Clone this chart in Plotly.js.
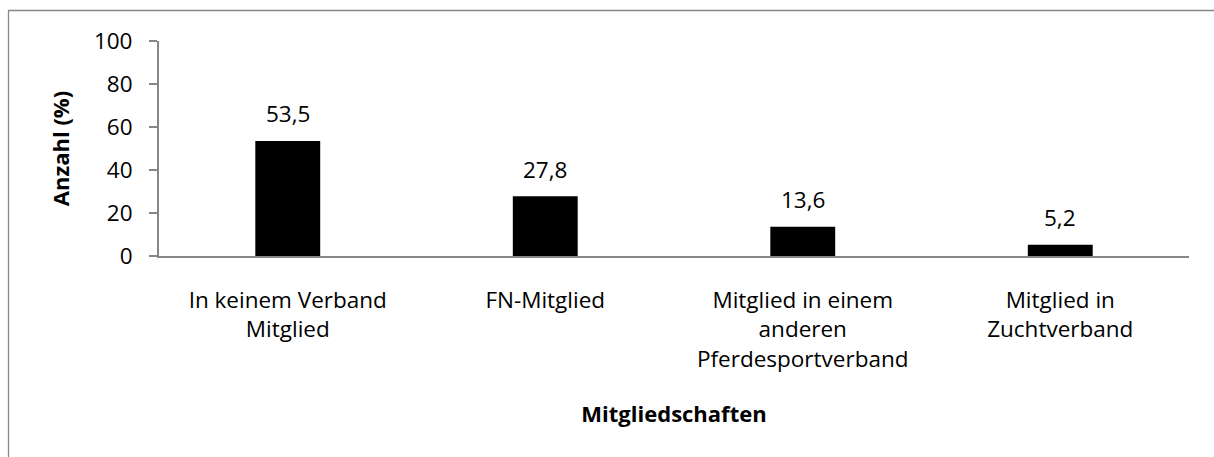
<!DOCTYPE html>
<html>
<head>
<meta charset="utf-8">
<script src="https://cdn.plot.ly/plotly-3.0.1.min.js"></script>
<style>
  html, body { margin: 0; padding: 0; background: #fff; }
  #chart { width: 1214px; height: 457px; }
</style>
</head>
<body>
<div id="chart"></div>
<script>
const categories = [
  "In keinem Verband<br>Mitglied",
  "FN-Mitglied",
  "Mitglied in einem<br>anderen<br>Pferdesportverband",
  "Mitglied in<br>Zuchtverband"
];
const values = [53.5, 27.8, 13.6, 5.2];
const yTicks = [0, 20, 40, 60, 80, 100];

const FONT = "'Open Sans', sans-serif";
const FS = 22.5;
const GRAY = "#878787";

const labels = values.map(v => v.toFixed(1).replace('.', ','));

const trace = {
  type: 'bar',
  x: categories,
  y: values,
  marker: { color: '#000000', line: { width: 0 } },
  hoverinfo: 'none'
};

const annotations = categories.map((c, i) => ({
  x: c, y: values[i], xref: 'x', yref: 'y',
  text: labels[i], showarrow: false,
  yanchor: 'middle', yshift: 27,
  font: { family: FONT, size: FS, color: '#000' }
}));

const L = 159, R = 25, T = 41, B = 201;
const W = 1214, H = 457;
const pw = W - L - R, ph = H - T - B;
const px = v => (v - L) / pw;
const py = v => (H - B - v) / ph;

const layout = {
  width: W, height: H,
  margin: { l: L, r: R, t: T, b: B, pad: 0 },
  paper_bgcolor: '#fff', plot_bgcolor: '#fff',
  font: { family: FONT, size: FS, color: '#000' },
  bargap: 0.748,
  showlegend: false,
  xaxis: {
    type: 'category',
    showline: true, linecolor: GRAY, linewidth: 2,
    ticks: '', showgrid: false, zeroline: false,
    ticklabelstandoff: 23,
    tickfont: { family: FONT, size: FS, color: '#000' },
    title: { text: '<b>Mitgliedschaften</b>', font: { family: FONT, size: 22, color: '#000' }, standoff: 34 },
    automargin: false, fixedrange: true
  },
  yaxis: {
    range: [0, 100],
    tickvals: yTicks, ticktext: yTicks.map(String),
    showline: true, linecolor: GRAY, linewidth: 2,
    ticks: 'outside', ticklen: 8, tickcolor: GRAY, tickwidth: 2,
    ticklabelstandoff: 12,
    showgrid: false, zeroline: false,
    tickfont: { family: FONT, size: FS, color: '#000' },
    title: { text: '<b>Anzahl (%)</b>', font: { family: FONT, size: 22, color: '#000' }, standoff: 18 },
    automargin: false, fixedrange: true
  },
  annotations: annotations,
  shapes: [{
    type: 'rect', xref: 'paper', yref: 'paper', layer: 'below',
    x0: px(8.5), x1: px(1240), y0: py(480), y1: py(10.5),
    line: { color: GRAY, width: 1.3 }, fillcolor: 'rgba(0,0,0,0)'
  }]
};

Plotly.newPlot('chart', [trace], layout, { staticPlot: true, displayModeBar: false });
</script>
</body>
</html>
